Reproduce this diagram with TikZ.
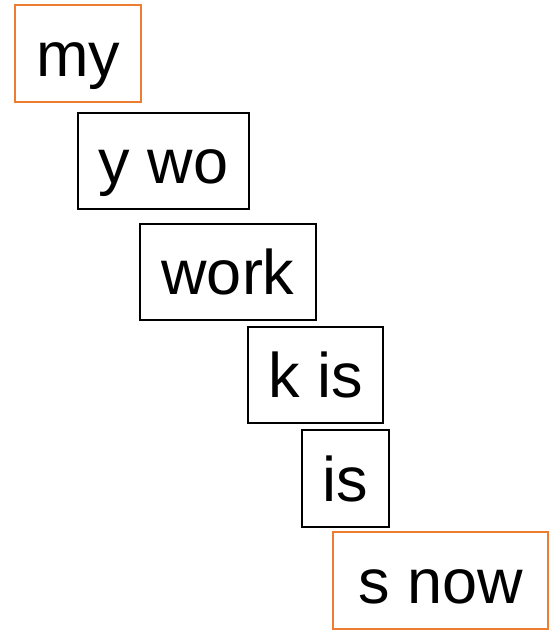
\documentclass[tikz,border=0pt]{standalone}
\usepackage{fontspec}
\setmainfont{Liberation Sans}
\definecolor{boxorange}{HTML}{ED7D31}
\begin{document}
\begin{tikzpicture}[x=1pt,y=-1pt,
  wordbox/.style={draw=black,line width=2pt,inner sep=0pt,
    font=\fontsize{63}{70}\selectfont,text height=60pt,text depth=15pt},
  hot/.style={draw=boxorange}]
\useasboundingbox (0,0) rectangle (549,630);
\node[wordbox,hot,minimum width=126pt,minimum height=97pt] (b1) at (78,53.5) {my};
\node[wordbox,minimum width=171pt,minimum height=96pt] (b2) at (163.5,161) {y wo};
\node[wordbox,minimum width=176pt,minimum height=96pt] (b3) at (228,272) {work};
\node[wordbox,minimum width=135pt,minimum height=96pt] (b4) at (315.5,375) {k is};
\node[wordbox,minimum width=87pt,minimum height=97pt] (b5) at (345.5,478.5) {is};
\node[wordbox,hot,minimum width=215pt,minimum height=97pt] (b6) at (440.5,580.5) {s now};
\end{tikzpicture}
\end{document}
